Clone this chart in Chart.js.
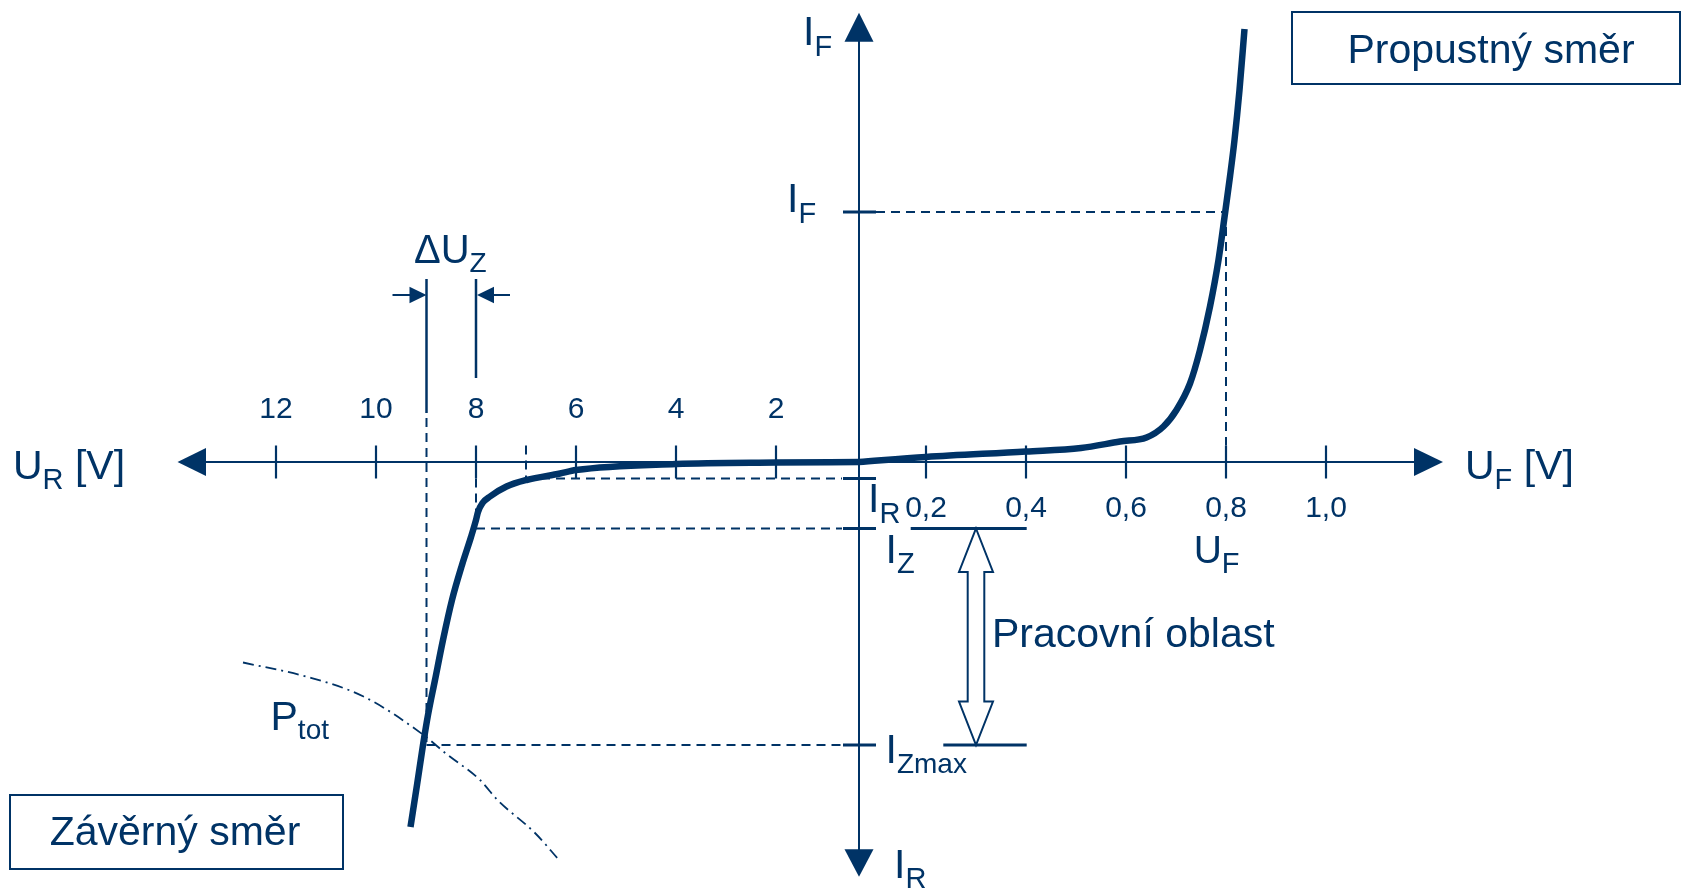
<!DOCTYPE html>
<html>
<head>
<meta charset="utf-8">
<title>Zenerova dioda – VA charakteristika</title>
<script src="https://cdn.jsdelivr.net/npm/chart.js@4.4.1/dist/chart.umd.min.js"></script>
<style>
  html, body { margin: 0; padding: 0; background: #fff; }
  #wrap { position: relative; width: 1683px; height: 890px; }
</style>
</head>
<body>
<div id="wrap"><canvas id="va"></canvas></div>
<script>
const NAVY = '#003366';
const FONT = '"Liberation Sans", Arial, sans-serif';

// závěrný směr: U_R [V], proud [mA] (záporný)
const reverseUR = [0.34, 2.0, 4.0, 6.0, 6.32, 6.99, 7.39, 7.72, 7.87, 7.96, 8.0, 8.1, 8.28, 8.48, 8.66, 8.82, 8.96, 9.06, 9.18, 9.31];
const reverseI  = [0, -0.1, -0.4, -1.6, -2.3, -3.6, -4.9, -6.9, -8.2, -10.0, -11.6, -15.0, -20.6, -27.6, -35.6, -43.6, -50.6, -56.6, -64.6, -73.0];

// propustný směr: U_F [V], proud [mA]
const forwardUF = [0.066, 0.2, 0.4, 0.51, 0.588, 0.641, 0.675, 0.701, 0.728, 0.748, 0.768, 0.785, 0.798, 0.808, 0.817, 0.827, 0.837];
const forwardI  = [0, 1.0, 2.1, 2.8, 4.1, 4.9, 7.1, 10.4, 15.7, 22.4, 31.1, 40.4, 49.7, 57.1, 64.4, 74.4, 86.6];

// hyperbola max. ztrátového výkonu P_tot
const ptotUR = [12.66, 11.4, 10.25, 9.05, 8.59, 7.92, 7.57, 6.82, 6.34];
const ptotI  = [-40.1, -42.9, -46.9, -54.6, -58.4, -63.6, -67.6, -74.2, -79.6];

// popisy os
const urTicks = [2, 4, 6, 8, 10, 12];
const ufTicks = [0.2, 0.4, 0.6, 0.8, 1.0];
const ufTickLabels = ['0,2', '0,4', '0,6', '0,8', '1,0'];

// vyznačené body na charakteristice
const markIF = 50, markUF = 0.8;
const markIR = -3.3, markUR_IR = 7.0;
const markIZ = -13.3, markUZ = 8.0;
const markIZmax = -56.6, markUZmax = 8.99;
const axisUF = 0.066;   // kde osu napětí protíná osa proudu

// rozsahy skrytých os
const UR_MIN = -16.14, UR_MAX = 17.52;
const UF_MIN = -1.652, UF_MAX = 1.714;
const I_MIN = -85.6, I_MAX = 92.4;

function pts(xs, ys) {
    return xs.map((x, i) => ({ x: x, y: ys[i] }));
}

function line(ctx, x1, y1, x2, y2, w, dash) {
    ctx.save();
    ctx.strokeStyle = NAVY;
    ctx.lineWidth = w;
    ctx.setLineDash(dash || []);
    ctx.beginPath();
    ctx.moveTo(x1, y1);
    ctx.lineTo(x2, y2);
    ctx.stroke();
    ctx.restore();
}

function tri(ctx, x1, y1, x2, y2, x3, y3) {
    ctx.save();
    ctx.fillStyle = NAVY;
    ctx.beginPath();
    ctx.moveTo(x1, y1);
    ctx.lineTo(x2, y2);
    ctx.lineTo(x3, y3);
    ctx.closePath();
    ctx.fill();
    ctx.restore();
}

// text s indexem: parts = [[text, size, posun dolů], ...]
function label(ctx, x, y, parts) {
    ctx.save();
    ctx.fillStyle = NAVY;
    ctx.textAlign = 'left';
    ctx.textBaseline = 'alphabetic';
    let cx = x;
    parts.forEach(p => {
        ctx.font = p[1] + 'px ' + FONT;
        ctx.fillText(p[0], cx, y + (p[2] || 0));
        cx += ctx.measureText(p[0]).width;
    });
    ctx.restore();
}

function centered(ctx, text, x, y, size) {
    ctx.save();
    ctx.fillStyle = NAVY;
    ctx.font = size + 'px ' + FONT;
    ctx.textAlign = 'center';
    ctx.textBaseline = 'alphabetic';
    ctx.fillText(text, x, y);
    ctx.restore();
}

function box(ctx, x, y, w, h) {
    ctx.save();
    ctx.strokeStyle = NAVY;
    ctx.lineWidth = 2;
    ctx.strokeRect(x, y, w, h);
    ctx.restore();
}

const diagram = {
    id: 'diagram',
    beforeDatasetsDraw(chart) {
        const ctx = chart.ctx;
        const xr = chart.scales.xr, xf = chart.scales.xf, y = chart.scales.y;
        const y0 = y.getPixelForValue(0);
        const x0 = xf.getPixelForValue(axisUF);

        // osy se šipkami
        line(ctx, 190, y0, 1420, y0, 2);
        tri(ctx, 177.5, y0, 206, y0 - 14, 206, y0 + 14);
        tri(ctx, 1443, y0, 1414, y0 - 14, 1414, y0 + 14);
        line(ctx, x0, 30, x0, 860, 2);
        tri(ctx, x0, 12.7, x0 - 14.5, 41.7, x0 + 14.5, 41.7);
        tri(ctx, x0, 876.7, x0 - 14.5, 849.3, x0 + 14.5, 849.3);

        // dílky
        urTicks.forEach(v => {
            const px = xr.getPixelForValue(v);
            line(ctx, px, y0 - 16.5, px, y0 + 16.5, 2.2);
        });
        ufTicks.forEach(v => {
            const px = xf.getPixelForValue(v);
            line(ctx, px, y0 - 16.5, px, y0 + 16.5, 2.2);
        });

        const dash = [9, 6];
        const pIF = y.getPixelForValue(markIF), pUF = xf.getPixelForValue(markUF);
        const pIR = y.getPixelForValue(markIR), pR = xr.getPixelForValue(markUR_IR);
        const pIZ = y.getPixelForValue(markIZ), pZ = xr.getPixelForValue(markUZ);
        const pIZm = y.getPixelForValue(markIZmax), pZm = xr.getPixelForValue(markUZmax);

        // pomocné čárkované čáry
        line(ctx, x0 + 17, pIF, pUF, pIF, 2, dash);
        line(ctx, pUF, pIF, pUF, y0 - 16.5, 2, dash);
        line(ctx, pR, y0 - 16.5, pR, pIR, 2, dash);
        line(ctx, pR, pIR, x0 - 17, pIR, 2, dash);
        line(ctx, pZ, y0 + 16.5, pZ, pIZ, 2, dash);
        line(ctx, pZ, pIZ, x0 - 17, pIZ, 2, dash);
        line(ctx, pZm, y0 - 44, pZm, pIZm, 2, dash);
        line(ctx, pZm, pIZm, x0 - 17, pIZm, 2, dash);

        // značky proudů na svislé ose
        [pIF, pIR, pIZ, pIZm].forEach(py => line(ctx, x0 - 16, py, x0 + 17, py, 3));

        // ΔU_Z
        line(ctx, pZm, 279, pZm, 413, 2.5);
        line(ctx, pZ, 279, pZ, 378, 2.5);
        line(ctx, pZm - 34, 295, pZm - 16, 295, 2);
        tri(ctx, pZm, 295, pZm - 17, 286.7, pZm - 17, 303.3);
        line(ctx, pZ + 34, 295, pZ + 16, 295, 2);
        tri(ctx, pZ + 1, 295, pZ + 18, 286.7, pZ + 18, 303.3);
    },
    afterDatasetsDraw(chart) {
        const ctx = chart.ctx;
        const xr = chart.scales.xr, xf = chart.scales.xf, y = chart.scales.y;
        const y0 = y.getPixelForValue(0);
        const pIF = y.getPixelForValue(markIF);
        const pIZ = y.getPixelForValue(markIZ);
        const pIZm = y.getPixelForValue(markIZmax);

        // pracovní oblast – dutá dvojitá šipka
        line(ctx, 910.7, pIZ, 1026.7, pIZ, 3);
        line(ctx, 943.3, pIZm, 1026.7, pIZm, 3);
        const cx = 976, head = 43.5, hw = 17, sw = 8.3;
        ctx.save();
        ctx.beginPath();
        ctx.moveTo(cx, pIZ);
        ctx.lineTo(cx + hw, pIZ + head);
        ctx.lineTo(cx + sw, pIZ + head);
        ctx.lineTo(cx + sw, pIZm - head);
        ctx.lineTo(cx + hw, pIZm - head);
        ctx.lineTo(cx, pIZm);
        ctx.lineTo(cx - hw, pIZm - head);
        ctx.lineTo(cx - sw, pIZm - head);
        ctx.lineTo(cx - sw, pIZ + head);
        ctx.lineTo(cx - hw, pIZ + head);
        ctx.closePath();
        ctx.fillStyle = '#fff';
        ctx.fill();
        ctx.strokeStyle = NAVY;
        ctx.lineWidth = 2;
        ctx.lineJoin = 'miter';
        ctx.stroke();
        ctx.restore();

        // popisky dílků
        urTicks.forEach(v => centered(ctx, String(v), xr.getPixelForValue(v), y0 - 44, 30));
        ufTicks.forEach((v, i) => centered(ctx, ufTickLabels[i], xf.getPixelForValue(v), y0 + 55, 30));

        // popisky os a veličin
        label(ctx, 13, y0 + 16.5, [['U', 41], ['R', 29, 10], [' [V]', 41]]);
        label(ctx, 1465, y0 + 16.5, [['U', 41], ['F', 29, 10], [' [V]', 41]]);
        label(ctx, 803, 45, [['I', 41], ['F', 29, 11]]);
        label(ctx, 787, pIF, [['I', 41], ['F', 29, 10.5]]);
        label(ctx, 868, 511.7, [['I', 41], ['R', 29, 11]]);
        label(ctx, 885.5, 563.3, [['I', 41], ['Z', 29, 9.4]]);
        label(ctx, 885.5, 762.7, [['I', 41], ['Zmax', 28, 10]]);
        label(ctx, 894, 878, [['I', 41], ['R', 29, 10]]);
        label(ctx, 1193.7, 563.3, [['U', 39], ['F', 29, 9.4]]);
        label(ctx, 414, 262.7, [['ΔU', 40], ['Z', 28, 9]]);
        label(ctx, 270.5, 730, [['P', 41], ['tot', 28, 9]]);
        label(ctx, 992, 646.7, [['Pracovní oblast', 41]]);

        // rámečky
        box(ctx, 1292, 12, 388, 72);
        centered(ctx, 'Propustný směr', 1491, 63.3, 41);
        box(ctx, 10, 795, 333, 74);
        centered(ctx, 'Závěrný směr', 175, 845, 41);
    }
};

const curveStyle = {
    showLine: true,
    borderColor: NAVY,
    borderWidth: 6.5,
    borderCapStyle: 'butt',
    borderJoinStyle: 'round',
    pointRadius: 0,
    cubicInterpolationMode: 'monotone'
};

new Chart(document.getElementById('va'), {
    type: 'scatter',
    data: {
        datasets: [
            Object.assign({
                label: 'závěrný směr',
                data: pts(reverseUR, reverseI),
                xAxisID: 'xr', yAxisID: 'y'
            }, curveStyle),
            Object.assign({
                label: 'propustný směr',
                data: pts(forwardUF, forwardI),
                xAxisID: 'xf', yAxisID: 'y'
            }, curveStyle),
            {
                label: 'P_tot',
                data: pts(ptotUR, ptotI),
                xAxisID: 'xr', yAxisID: 'y',
                showLine: true,
                borderColor: NAVY,
                borderWidth: 1.8,
                borderDash: [11, 5, 2, 5],
                pointRadius: 0,
                cubicInterpolationMode: 'monotone'
            }
        ]
    },
    options: {
        responsive: true,
        maintainAspectRatio: false,
        animation: false,
        events: [],
        layout: { padding: 0 },
        plugins: {
            legend: { display: false },
            tooltip: { enabled: false }
        },
        scales: {
            xr: { type: 'linear', reverse: true, min: UR_MIN, max: UR_MAX, display: false },
            xf: { type: 'linear', min: UF_MIN, max: UF_MAX, display: false },
            y: { type: 'linear', min: I_MIN, max: I_MAX, display: false }
        }
    },
    plugins: [diagram]
});
</script>
</body>
</html>
